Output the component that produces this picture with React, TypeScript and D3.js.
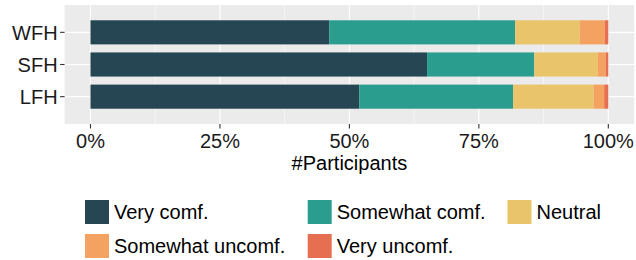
import React, { useEffect, useRef } from 'react';
import * as d3 from 'd3';

// comfort levels per setting, in percent of participants
const categories = ['WFH', 'SFH', 'LFH'];
const levels = ['Very comf.', 'Somewhat comf.', 'Neutral', 'Somewhat uncomf.', 'Very uncomf.'];
const veryComf = [46.1, 65.0, 51.9];
const somewhatComf = [35.9, 20.7, 29.7];
const neutral = [12.5, 12.3, 15.6];
const somewhatUncomf = [4.8, 1.5, 2.0];
const veryUncomf = [0.7, 0.5, 0.8];
const xTicks = [0, 0.25, 0.5, 0.75, 1];
const xMinor = [0.125, 0.375, 0.625, 0.875];

const colors = ['#264653', '#2a9d8f', '#e9c46a', '#f4a261', '#e76f51'];

const FONT = '"Liberation Sans", Arial, Helvetica, sans-serif';

export default function App() {
  const ref = useRef<SVGSVGElement>(null);

  useEffect(() => {
    const width = 636;
    const height = 260;
    const panel = { left: 64.6, right: 634.2, top: 5, bottom: 124 };

    const svg = d3.select(ref.current);
    svg.selectAll('*').remove();

    const rows = categories.map((c, i) => ({
      cat: c,
      [levels[0]]: veryComf[i],
      [levels[1]]: somewhatComf[i],
      [levels[2]]: neutral[i],
      [levels[3]]: somewhatUncomf[i],
      [levels[4]]: veryUncomf[i],
    }));

    const series = d3.stack<any>()
      .keys(levels)
      .offset(d3.stackOffsetExpand)(rows);

    const pw = panel.right - panel.left;
    const x = d3.scaleLinear()
      .domain([0, 1])
      .range([panel.left + pw * 0.05 / 1.1, panel.right - pw * 0.05 / 1.1]);

    const y = d3.scaleBand()
      .domain(categories)
      .range([panel.top, panel.bottom])
      .paddingOuter(0.6 - 0.125)
      .paddingInner(0.25);

    const color = d3.scaleOrdinal<string>().domain(levels).range(colors);

    // panel background
    svg.append('rect')
      .attr('x', panel.left)
      .attr('y', panel.top)
      .attr('width', pw)
      .attr('height', panel.bottom - panel.top)
      .attr('fill', '#ebebeb');

    const grid = svg.append('g');
    grid.selectAll('.minor')
      .data(xMinor)
      .enter()
      .append('line')
      .attr('x1', (d) => x(d))
      .attr('x2', (d) => x(d))
      .attr('y1', panel.top)
      .attr('y2', panel.bottom)
      .attr('stroke', '#fff')
      .attr('stroke-width', 0.55);

    grid.selectAll('.major')
      .data(xTicks)
      .enter()
      .append('line')
      .attr('x1', (d) => x(d))
      .attr('x2', (d) => x(d))
      .attr('y1', panel.top)
      .attr('y2', panel.bottom)
      .attr('stroke', '#fff')
      .attr('stroke-width', 1.1);

    grid.selectAll('.hmajor')
      .data(categories)
      .enter()
      .append('line')
      .attr('x1', panel.left)
      .attr('x2', panel.right)
      .attr('y1', (d) => y(d)! + y.bandwidth() / 2)
      .attr('y2', (d) => y(d)! + y.bandwidth() / 2)
      .attr('stroke', '#fff')
      .attr('stroke-width', 1.1);

    // stacked bars
    svg.append('g')
      .selectAll('g')
      .data(series)
      .enter()
      .append('g')
      .attr('fill', (s) => color(s.key))
      .selectAll('rect')
      .data((s) => s)
      .enter()
      .append('rect')
      .attr('x', (d) => x(d[0]))
      .attr('width', (d) => x(d[1]) - x(d[0]))
      .attr('y', (d) => y(d.data.cat)!)
      .attr('height', y.bandwidth());

    // y axis
    const yAxis = svg.append('g');
    categories.forEach((c) => {
      const cy = y(c)! + y.bandwidth() / 2;
      yAxis.append('line')
        .attr('x1', panel.left - 4.5)
        .attr('x2', panel.left)
        .attr('y1', cy)
        .attr('y2', cy)
        .attr('stroke', '#333')
        .attr('stroke-width', 1.1);
      yAxis.append('text')
        .attr('x', panel.left - 7)
        .attr('y', cy + 7.2)
        .attr('text-anchor', 'end')
        .attr('font-family', FONT)
        .attr('font-size', 20)
        .attr('fill', '#1a1a1a')
        .text(c);
    });

    // x axis
    const xAxis = svg.append('g');
    xTicks.forEach((t) => {
      xAxis.append('line')
        .attr('x1', x(t))
        .attr('x2', x(t))
        .attr('y1', panel.bottom)
        .attr('y2', panel.bottom + 4.5)
        .attr('stroke', '#333')
        .attr('stroke-width', 1.1);
      xAxis.append('text')
        .attr('x', x(t))
        .attr('y', 147.5)
        .attr('text-anchor', 'middle')
        .attr('font-family', FONT)
        .attr('font-size', 20)
        .attr('fill', '#1a1a1a')
        .text(d3.format('.0%')(t));
    });

    svg.append('text')
      .attr('x', (panel.left + panel.right) / 2)
      .attr('y', 170)
      .attr('text-anchor', 'middle')
      .attr('font-family', FONT)
      .attr('font-size', 20)
      .attr('fill', '#000')
      .text('#Participants');

    // legend, 3 columns by 2 rows
    const colX = [85, 307.7, 507.5];
    const rowY = [200, 234];
    const key = 24;
    const legend = svg.append('g');
    levels.forEach((l, i) => {
      const kx = colX[i % 3];
      const ky = rowY[Math.floor(i / 3)];
      legend.append('rect')
        .attr('x', kx)
        .attr('y', ky)
        .attr('width', key)
        .attr('height', key)
        .attr('fill', color(l));
      legend.append('text')
        .attr('x', kx + key + 5)
        .attr('y', ky + key / 2 + 7.2)
        .attr('font-family', FONT)
        .attr('font-size', 20)
        .attr('fill', '#000')
        .text(l);
    });
  }, []);

  return (
    <svg
      ref={ref}
      width={636}
      height={260}
      style={{ position: 'absolute', left: 0, top: 0, background: '#fff' }}
    />
  );
}
